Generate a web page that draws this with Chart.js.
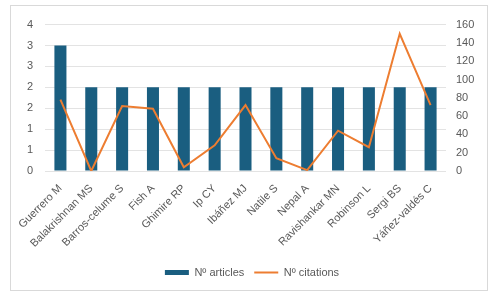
<!DOCTYPE html>
<html>
<head>
<meta charset="utf-8">
<script src="https://cdn.jsdelivr.net/npm/chart.js@4/dist/chart.umd.min.js"></script>
<style>
  html, body { margin: 0; padding: 0; background: #fff; }
  #frame { position: absolute; left: 10px; top: 5px; width: 476px; height: 284px; border: 1px solid #d9d9d9; }
  canvas { display: block; }
</style>
</head>
<body>
<div id="frame"><canvas id="c" width="476" height="284"></canvas></div>
<script>
const categories = ["Guerrero M", "Balakrishnan MS", "Barros-celume S", "Fish A", "Ghimire RP", "Ip CY", "Ibáñez MJ", "Natile S", "Nepal A", "Ravishankar MN", "Robinson L", "Sergi BS", "Yáñez-valdés C"];
const articles = [3, 2, 2, 2, 2, 2, 2, 2, 2, 2, 2, 2, 2];
const citations = [78, 0, 71, 68, 4, 28, 72, 14, 1, 44, 26, 150, 72];
const leftTicks = [0, 0.5, 1, 1.5, 2, 2.5, 3, 3.5];
const rightTicks = [0, 20, 40, 60, 80, 100, 120, 140, 160];

const txt = '#595959';
const fnt = { family: 'Liberation Sans, Arial, sans-serif', size: 11 };

new Chart(document.getElementById('c'), {
  data: {
    labels: categories,
    datasets: [
      { type: 'line', label: 'Nº citations', data: citations, yAxisID: 'y2',
        borderColor: '#ED7D31', backgroundColor: '#ED7D31', borderWidth: 2,
        pointRadius: 0, pointStyle: 'line', tension: 0, order: 0 },
      { type: 'bar', label: 'Nº articles', data: articles, yAxisID: 'y',
        backgroundColor: '#1A5E80', borderWidth: 0, pointStyle: 'rect',
        categoryPercentage: 1, barPercentage: 0.39, order: 1 }
    ]
  },
  options: {
    responsive: false,
    animation: false,
    layout: { padding: { top: 13, right: 0, left: 6, bottom: 2 } },
    plugins: {
      tooltip: { enabled: false },
      legend: {
        position: 'bottom',
        reverse: true,
        labels: { usePointStyle: true, pointStyleWidth: 24, boxHeight: 5, color: txt, font: fnt, padding: 10 }
      }
    },
    scales: {
      x: {
        grid: { display: false },
        border: { display: false },
        ticks: { color: txt, font: fnt, minRotation: 45, maxRotation: 45, autoSkip: false, padding: 3 },
        afterFit: s => { s.height = 86; }
      },
      y: {
        position: 'left', min: 0, max: 3.5,
        afterBuildTicks: s => { s.ticks = leftTicks.map(v => ({ value: v })); },
        ticks: { color: txt, font: fnt, padding: 12, callback: v => String(Math.round(v)) },
        grid: { color: '#e3e3e3', drawTicks: false, lineWidth: 1 },
        border: { display: false },
        afterFit: s => { s.width = 28; }
      },
      y2: {
        position: 'right', min: 0, max: 160,
        afterBuildTicks: s => { s.ticks = rightTicks.map(v => ({ value: v })); },
        ticks: { color: txt, font: fnt, padding: 10 },
        grid: { display: false, drawTicks: false },
        border: { display: false },
        afterFit: s => { s.width = 41; }
      }
    }
  }
});
</script>
</body>
</html>
